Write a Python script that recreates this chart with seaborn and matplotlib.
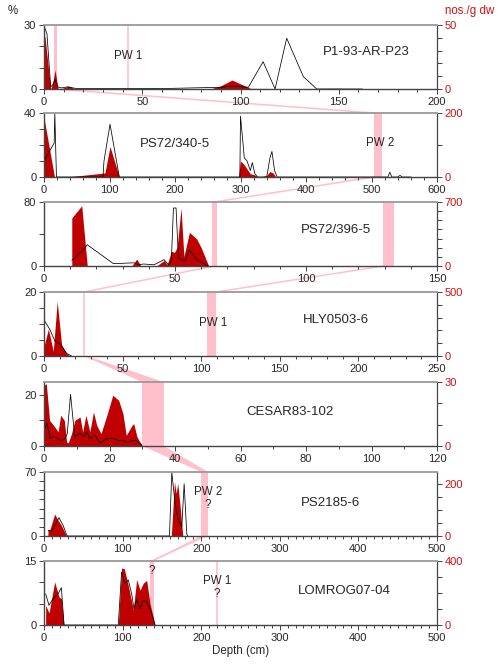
import numpy as np
import pandas as pd
import matplotlib
matplotlib.use("Agg")
import matplotlib.pyplot as plt
import seaborn as sns
from matplotlib import transforms
from matplotlib.patches import Polygon
from matplotlib.lines import Line2D
from matplotlib.ticker import MultipleLocator

# values: depth (cm), % (black line), nos./g dw (red fill)
cores = ["P1-93-AR-P23", "PS72/340-5", "PS72/396-5", "HLY0503-6",
         "CESAR83-102", "PS2185-6", "LOMROG07-04"]

p1_pct_depth = [0, 1.5, 3.4, 4.5, 5.6, 7, 9, 12, 16, 30, 60, 90, 96, 104, 111.5, 117.6, 123.5, 132, 138.8, 150, 162]
p1_pct = [29.5, 26, 1, 2, 4.5, 1, 0.5, 1, 0.3, 0.2, 0.2, 0.8, 1.4, 0.8, 12.8, 0, 23.8, 5.8, 0, 0, 0]
p1_cnt_depth = [0, 0.5, 3.4, 4.5, 5.6, 7.2, 9, 12.4, 16, 84.5, 90, 95.7, 100, 105, 115, 130, 150, 162]
p1_cnt = [40, 41, 0, 5, 14.8, 0, 0.3, 2.3, 0, 0, 2.5, 7, 4, 0.5, 0.4, 0.3, 0.5, 0]

p2_pct_depth = [0, 15.5, 16.5, 19, 40, 90, 91.6, 100.8, 115, 200, 299, 300, 305.8, 310, 315, 318, 322, 326,
                340, 345, 348, 352, 356, 400, 525, 528, 531, 540, 543.5, 547, 560]
p2_pct = [10.2, 21.2, 40, 0, 0, 0, 10, 33, 0, 0, 0, 38, 12, 10, 4, 9, 2, 0,
          0, 12, 16, 4, 0, 0, 0, 3, 0, 0, 1, 0, 0]
p2_cnt_depth = [0, 16, 34.6, 93, 100.8, 115, 297, 300, 305, 310, 315, 320, 325, 330, 340, 345, 350, 354]
p2_cnt = [185, 0, 0, 12.5, 95, 0, 0, 50, 40, 25, 10, 8, 2, 0, 5, 17, 12, 0]

p3_pct_depth = [10.6, 14.4, 16.5, 26.5, 34.3, 36, 38, 42, 45.8, 47.5, 48.6, 49.4, 50.4, 51.3, 53.9, 55.5, 58.3, 60.9, 62.7]
p3_pct = [7, 18, 26.6, 2.9, 4, 1.5, 2.5, 1.5, 8, 1.5, 6, 72.5, 72.5, 10, 6, 20, 8, 3, 0]
p3_cnt_depth = [10.6, 10.6, 14.4, 16.5, 25, 33.5, 35.4, 37, 43, 45.8, 47, 48.6, 49.8, 50.8, 52.3, 53.4, 55.5, 58.3, 60, 62.7]
p3_cnt = [0, 525, 659, 5, 2, 0, 76, 0, 0, 60, 15, 160, 150, 200, 634, 105, 368, 295, 200, 10]

p4_pct_depth = [0, 3.8, 7, 10.2, 14.4, 17.6]
p4_pct = [11.3, 8.2, 4.6, 3.8, 0.8, 0]
p4_cnt_depth = [0, 2.8, 5.9, 8.4, 11.2, 14.4, 16.5]
p4_cnt = [75, 211, 36, 427, 88, 20, 0]

p5_pct_depth = [0, 0.9, 1.9, 2.8, 4.3, 5.3, 6.4, 7.1, 8.1, 9.4, 11, 12, 13, 14, 15.6, 17.1, 19.2, 21.2,
                22.8, 24.3, 25.3, 26.9, 28.4, 29.9]
p5_pct = [6.1, 9, 2.9, 3.8, 2.9, 2, 2.9, 4.8, 20.2, 3.5, 5.1, 3.5, 5.5, 2.9, 4.2, 1.2, 2.9, 2.9,
          2.2, 2.2, 1.2, 2.2, 2, 0.3]
p5_cnt_depth = [0, 0.7, 1.7, 3.3, 4.3, 5.1, 6.2, 6.9, 7.4, 8.4, 9.4, 11, 11.8, 12.8, 14, 15.1, 16.1, 17.4,
                19.2, 21, 22.8, 24.1, 25.1, 26.9, 27.4, 28.4, 29.9]
p5_cnt = [28.4, 29.2, 12, 8.9, 6.6, 14.4, 12, 1.9, 1.4, 5.8, 12, 13.6, 6.6, 14.4, 6.6, 16, 9.7, 5.8,
          14.4, 23.8, 21.4, 15.2, 5, 9.7, 10.5, 4.2, 0.3]

p6_pct_depth = [5.1, 9.4, 13.6, 19.1, 24.3, 28.5, 30, 159.6, 162.6, 166.8, 171.1, 175.3, 178.3, 181.7, 183]
p6_pct = [6.2, 5.5, 11.7, 20, 11.7, 1.8, 0, 0, 70, 35, 17, 10, 57, 1.8, 0]
p6_cnt_depth = [5, 7.2, 13.6, 17.9, 22, 28.5, 162, 166, 168.1, 170.2, 173.2, 175.3, 176.6]
p6_cnt = [25, 22, 85, 61, 42, 0, 0, 211, 165, 204, 113, 42, 0]

p7_pct_depth = [2.1, 6.4, 11.5, 17.9, 22.1, 25.5, 94.5, 98.7, 103, 107.2, 111.5, 114.5, 117.9, 122.1,
                126.4, 130.6, 134.9, 141.3]
p7_pct = [7.3, 4.6, 6.2, 7.3, 8.75, 0, 0, 12.4, 9.7, 10.6, 7.3, 3.8, 5.9, 3.8, 5.8, 5.4, 3.8, 0]
p7_cnt_depth = [2.1, 2.1, 6.4, 13.6, 19.1, 22.1, 25.5, 94.5, 98.7, 102.1, 107.2, 113.6, 117.9, 122.1,
                126.4, 130.6, 134.9, 141.3]
p7_cnt = [0, 123, 75, 269, 175, 165, 0, 0, 356, 352, 248, 96, 285, 217, 262, 279, 133, 0]

pct_depths = [p1_pct_depth, p2_pct_depth, p3_pct_depth, p4_pct_depth, p5_pct_depth, p6_pct_depth, p7_pct_depth]
pcts = [p1_pct, p2_pct, p3_pct, p4_pct, p5_pct, p6_pct, p7_pct]
cnt_depths = [p1_cnt_depth, p2_cnt_depth, p3_cnt_depth, p4_cnt_depth, p5_cnt_depth, p6_cnt_depth, p7_cnt_depth]
cnts = [p1_cnt, p2_cnt, p3_cnt, p4_cnt, p5_cnt, p6_cnt, p7_cnt]

# pink marker layers (depth ranges / single depths) per core
bands = [[(5.1, 6.6)], [(504, 516)], [(64, 66), (129.4, 133.6)], [(103.7, 109.4)],
         [(30, 36.6)], [(200, 209)], [(135, 140)]]
marks = [[42.7], [], [], [25.4], [], [], [220]]

sns.set_style("ticks")
plt.rcParams["font.family"] = ["Liberation Sans", "DejaVu Sans"]
plt.rcParams["font.size"] = 8

RED = "#c00000"
LABRED = "#d01010"
PINK = "#ffc0cb"
GREY = "#444444"

# axis set-up per panel
panels = [
    dict(xmax=200, xmaj=50, xmin=10, ymax=30, yt=[0, 10, 20, 30], rmax=50, rt=[0, 10, 20, 30, 40, 50], top=25),
    dict(xmax=600, xmaj=100, xmin=20, ymax=40, yt=[0, 10, 20, 30, 40], rmax=200, rt=[0, 100, 200], top=113),
    dict(xmax=150, xmaj=50, xmin=10, ymax=80, yt=[0, 40, 80], rmax=700, rt=list(range(0, 701, 100)), top=202),
    dict(xmax=250, xmaj=50, xmin=10, ymax=20, yt=[0, 5, 10, 15, 20], rmax=500, rt=list(range(0, 501, 100)), top=292),
    dict(xmax=120, xmaj=20, xmin=10, ymax=25, yt=[0, 10, 20], rmax=30, rt=[0, 10, 20, 30], top=382),
    dict(xmax=500, xmaj=100, xmin=10, ymax=70, yt=list(range(0, 71, 10)), rmax=248, rt=[0, 50, 100, 150, 200], top=472),
    dict(xmax=500, xmaj=100, xmin=10, ymax=15, yt=[0, 5, 10, 15], rmax=400, rt=list(range(0, 401, 100)), top=561),
]
name_pos = [(0.82, 0.58), (0.333, 0.52), (0.743, 0.56), (0.743, 0.56), (0.626, 0.53), (0.728, 0.52), (0.763, 0.53)]

fig = plt.figure(figsize=(5, 6.64), dpi=100)
axes = []
for i, cfg in enumerate(panels):
    bottom = 1 - (cfg["top"] + 64) / 664
    ax = fig.add_axes([44 / 500, bottom, 393 / 500, 64 / 664])
    ax2 = ax.twinx()
    ax.set_zorder(ax2.get_zorder() + 1)
    ax.patch.set_visible(False)

    for a, b in bands[i]:
        ax2.axvspan(a, b, color=PINK, lw=0, zorder=0)
    for m in marks[i]:
        ax2.axvline(m, color=PINK, lw=1.2, zorder=0)
    ax2.fill_between(cnt_depths[i], cnts[i], 0, color=RED, lw=0, zorder=1)

    df = pd.DataFrame({"depth": pct_depths[i], "pct": pcts[i]})
    sns.lineplot(data=df, x="depth", y="pct", ax=ax, color="black", lw=0.55,
                 sort=False, estimator=None)

    ax.set_xlim(0, cfg["xmax"])
    ax.set_ylim(0, cfg["ymax"])
    ax2.set_ylim(0, cfg["rmax"])
    ax.xaxis.set_major_locator(MultipleLocator(cfg["xmaj"]))
    ax.xaxis.set_minor_locator(MultipleLocator(cfg["xmin"]))
    ax.set_yticks(cfg["yt"])
    ax.set_yticklabels([str(t) if t in (cfg["yt"][0], cfg["yt"][-1]) else "" for t in cfg["yt"]])
    ax2.set_yticks(cfg["rt"])
    ax2.set_yticklabels([str(t) if t in (cfg["rt"][0], cfg["rt"][-1]) else "" for t in cfg["rt"]])
    ax.set_xlabel("")
    ax.set_ylabel("")

    ax.tick_params(which="both", direction="out", length=3.5, width=0.7, color=GREY,
                   labelsize=8, pad=2)
    ax.tick_params(axis="x", which="minor", length=2.5)
    ax2.tick_params(axis="y", direction="out", length=3.5, width=0.7, color=GREY,
                    labelsize=8, labelcolor=LABRED, pad=2)
    for s in ["left", "bottom"]:
        ax.spines[s].set_color(GREY)
        ax.spines[s].set_linewidth(1.0)
    ax.spines["top"].set_visible(True)
    ax.spines["top"].set_color("#999999")
    ax.spines["top"].set_linewidth(1.3)
    ax.spines["right"].set_visible(False)
    for s in ["left", "top", "bottom"]:
        ax2.spines[s].set_visible(False)
    ax2.spines["right"].set_color(GREY)
    ax2.spines["right"].set_linewidth(0.9)

    ax.text(name_pos[i][0], name_pos[i][1], cores[i], transform=ax.transAxes,
            ha="center", va="center", fontsize=9.5)
    axes.append(ax)


# marker labels
def label(ax, x, yf, s):
    tr = transforms.blended_transform_factory(ax.transData, ax.transAxes)
    ax.text(x, yf, s, transform=tr, ha="center", va="center", fontsize=8.3, linespacing=1.1)


label(axes[0], 42.7, 0.52, "PW 1")
label(axes[1], 513, 0.53, "PW 2")
label(axes[3], 107.5, 0.52, "PW 1")
label(axes[5], 208.6, 0.59, "PW 2\n?")
label(axes[6], 137.4, 0.84, "?")
label(axes[6], 220, 0.58, "PW 1\n?")

axes[-1].set_xlabel("Depth (cm)", fontsize=8.3, labelpad=2)


def fpt(ax, x, yf):
    tr = transforms.blended_transform_factory(ax.transData, ax.transAxes)
    return fig.transFigure.inverted().transform(tr.transform((x, yf)))


# correlation lines between cores
links = [(0, 5.8, 504), (1, 504, 65), (2, 65, 25.4), (2, 129.4, 109.4)]
for i, xa, xb in links:
    p, q = fpt(axes[i], xa, 0), fpt(axes[i + 1], xb, 1)
    fig.add_artist(Line2D([p[0], q[0]], [p[1], q[1]], transform=fig.transFigure,
                          color=PINK, lw=1.1, zorder=-1))

spans = [(3, (25.4, 27.5), (30, 36.6)), (4, (30, 36.6), (200, 209)), (5, (200, 208), (135, 140))]
for i, (a0, a1), (b0, b1) in spans:
    pts = [fpt(axes[i], a0, 0), fpt(axes[i], a1, 0), fpt(axes[i + 1], b1, 1), fpt(axes[i + 1], b0, 1)]
    fig.add_artist(Polygon(pts, closed=True, transform=fig.transFigure, facecolor=PINK,
                           edgecolor="none", zorder=-1))

fig.text(8 / 500, 1 - 11 / 664, "%", ha="left", va="center", fontsize=8.3)
fig.text(470 / 500, 1 - 11 / 664, "nos./g dw", ha="center", va="center", fontsize=8.3, color=LABRED)

fig.savefig("out.png", dpi=100)
